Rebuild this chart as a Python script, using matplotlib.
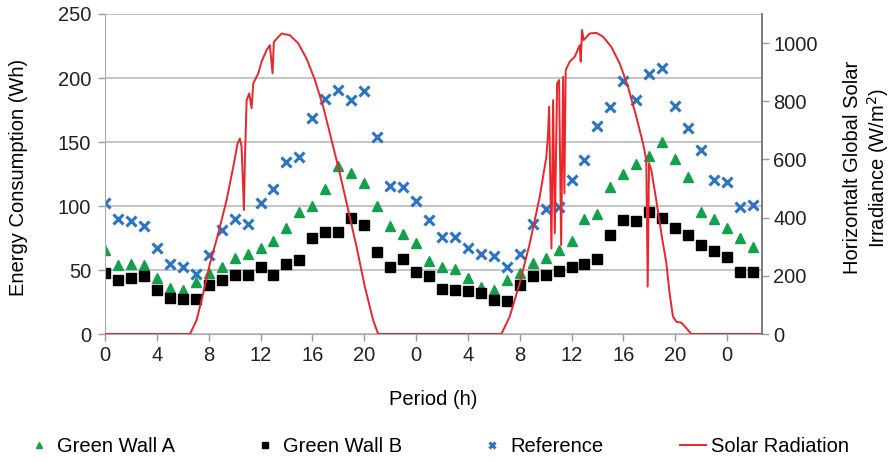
import numpy as np
import matplotlib
matplotlib.use("Agg")
from matplotlib import pyplot as plt

plt.rcParams['font.family'] = ['Liberation Sans', 'DejaVu Sans']

# hourly energy consumption (Wh), two days
hours = np.arange(51)
green_a = [66, 54, 55, 54, 43.5, 36, 34.5, 41, 47.5, 52.5, 59, 62.5, 67.5, 72.5, 82.5, 95, 100,
           113, 131.5, 126, 118, 100, 84, 78.5, 71, 57, 52.5, 51, 43.5, 36.5, 34.5, 42.5, 47.5,
           55.5, 59, 66, 73, 90, 94, 114.5, 125, 133, 139, 150, 136.5, 123, 95, 90, 83, 75, 68]
green_b = [47.5, 42, 43.5, 45, 34.5, 28.5, 27, 27, 38, 42, 46.5, 46.5, 52.5, 46.5, 55, 58, 75,
           79.5, 79.5, 91, 85.5, 64, 52.5, 58.5, 48.5, 45, 35.5, 34.5, 33.5, 32, 26.5, 26, 38,
           45, 46, 49.5, 52.5, 55, 58.5, 77, 89, 88, 95.5, 91, 82.5, 77, 69.5, 65, 60.5, 48.5, 48.5]
reference = [102, 90, 88, 84, 67, 55, 52.5, 47, 62, 81, 90, 86, 102, 113, 134, 138, 168.5,
             183.5, 191, 183, 190, 154, 116, 114.5, 104, 89, 76, 76, 67.5, 62.5, 61, 52.5, 62.5,
             86, 98, 99, 120, 136, 162.5, 177, 198, 183, 203, 207.5, 178, 161, 144, 120, 119, 99, 101]

# solar irradiance trace (W/m2)
solar_h = [0, 6.56, 7.07, 7.58, 8.1, 8.74, 9.38, 9.9, 10.23, 10.41, 10.54, 10.72, 10.8, 10.93,
           11.13, 11.31, 11.44, 11.83, 12.08, 12.47, 12.72, 12.93, 13.03, 13.62, 14.27, 14.91,
           15.55, 16.2, 16.84, 17.48, 18.12, 18.77, 19.41, 20.05, 20.69, 21.08,
           30.59, 31.23, 32.0, 32.78, 33.55, 34.06, 34.19, 34.27, 34.45, 34.58, 34.71, 34.89,
           35.04, 35.2, 35.35, 35.45, 35.55, 35.86, 36.25, 36.63, 36.71, 36.81, 36.94, 37.4,
           37.92, 38.43, 39.07, 39.72, 40.36, 41.0, 41.52, 41.77, 41.88, 41.98, 42.16, 42.54,
           42.93, 43.32, 43.57, 43.83, 44.09, 44.47, 44.86, 45.25, 50.7]
solar_w = [0, 0, 48, 140, 243, 346, 460, 575, 655, 672, 644, 426, 609, 804,
           827, 776, 861, 896, 936, 976, 993, 896, 1004, 1033, 1027, 999,
           947, 873, 781, 667, 552, 426, 300, 163, 48, 0,
           0, 60, 174, 312, 472, 609, 690, 781, 294, 804, 346, 861,
           873, 306, 884, 483, 907, 936, 953, 993, 936, 1045, 1010, 1033,
           1035, 1022, 987, 930, 850, 747, 655, 598, 163, 587, 564, 460,
           346, 243, 140, 60, 42, 39, 20, 0, 0]

xticks = np.arange(0, 49, 4)
xlabels = [str(t % 24) for t in xticks]
fs = 14.5

fig = plt.figure(figsize=(8.93, 4.62), dpi=100)
ax = fig.add_axes([0.1176, 0.277, 0.7357, 0.6927])
ax2 = ax.twinx()

ax.plot(hours, green_a, linestyle='none', marker='^', ms=7.5, color='#13a04b', label='Green Wall A')
ax.plot(hours, green_b, linestyle='none', marker='s', ms=7.5, color='#000000', label='Green Wall B')
ax.plot(hours, reference, linestyle='none', marker='x', ms=6.5, mew=2.2, color='#2a74c6', label='Reference')
ax2.plot(solar_h, solar_w, color='#e8262b', lw=1.4, label='Solar Radiation')

ax.set_xlim(0, 50.7)
ax.set_ylim(0, 250)
ax2.set_ylim(0, 1100)
ax.set_xticks(xticks)
ax.set_xticklabels(xlabels)
ax.set_yticks(np.arange(0, 251, 50))
ax2.set_yticks(np.arange(0, 1001, 200))

ax.yaxis.grid(True, color='#c4c4c4', lw=1.4)
ax.set_axisbelow(True)

for a in (ax, ax2):
    a.spines['top'].set_visible(False)
    a.tick_params(labelsize=fs, colors='#222222', length=5, width=1)
    a.tick_params(axis='both', color='#999999')
ax.tick_params(axis='y', pad=5)
ax2.tick_params(axis='y', pad=3)
ax.spines['left'].set_color('#aaaaaa')
ax.spines['bottom'].set_color('#aaaaaa')
ax.spines['right'].set_visible(False)
ax2.spines['left'].set_visible(False)
ax2.spines['bottom'].set_visible(False)
ax2.spines['right'].set_color('#666666')
ax2.spines['right'].set_linewidth(1.2)

ax.set_xlabel('Period (h)', fontsize=fs, va='center')
ax.xaxis.set_label_coords(0.5, -0.206)
ax.set_ylabel('Energy Consumption (Wh)', fontsize=fs, va='center')
ax.yaxis.set_label_coords(-0.131, 0.49)
ax2.set_ylabel('Horizontalt Global Solar\nIrradiance (W/m$^2$)', fontsize=fs,
               va='center', ha='center', linespacing=1.15)
ax2.yaxis.set_label_coords(1.16, 0.52)

h1, l1 = ax.get_legend_handles_labels()
h2, l2 = ax2.get_legend_handles_labels()
fig.legend(h1 + h2, l1 + l2, loc='center', bbox_to_anchor=(0.49, 0.033), ncol=4,
           frameon=False, fontsize=fs, markerscale=0.6, handlelength=1.3,
           handletextpad=0.25, columnspacing=3.8)

plt.savefig('out.png', dpi=100)
